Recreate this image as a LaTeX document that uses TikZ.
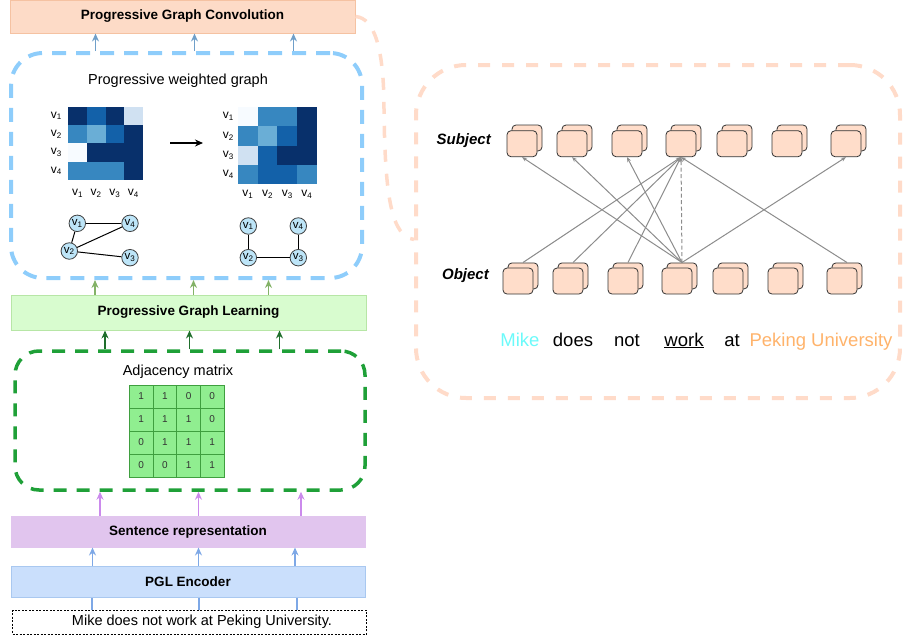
\documentclass[tikz,border=0pt]{standalone}
\usepackage{fontspec}
\setmainfont{Liberation Sans}
\usepackage{xcolor}
\usetikzlibrary{arrows.meta,positioning}

\definecolor{pgcfill}{HTML}{FDDBC7}
\definecolor{pgcline}{HTML}{F5C2A2}
\definecolor{pwgline}{HTML}{8ECDFB}
\definecolor{pglfill}{HTML}{D8FCCF}
\definecolor{pglline}{HTML}{B7E6A6}
\definecolor{adjdash}{HTML}{1FA038}
\definecolor{srfill}{HTML}{E1C5EE}
\definecolor{encfill}{HTML}{CADFFC}
\definecolor{encline}{HTML}{A9C8F0}
\definecolor{peachdash}{HTML}{FFDBC9}
\definecolor{stackfill}{HTML}{FFDDCA}
\definecolor{relgray}{HTML}{8C8C8C}
\definecolor{mike}{HTML}{6BFAFA}
\definecolor{peking}{HTML}{FFB36B}
\definecolor{arrblue}{HTML}{6F9FC9}
\definecolor{arrgreen}{HTML}{83B267}
\definecolor{arrdark}{HTML}{1F6E2C}
\definecolor{arrpurple}{HTML}{CB8AEC}
\definecolor{arrsky}{HTML}{7EA8E6}
\definecolor{vfill}{HTML}{BDE5F8}
\definecolor{adjfill}{HTML}{90EE90}
\definecolor{adjline}{HTML}{3F9F3F}
\definecolor{hm0}{HTML}{F7FBFF}
\definecolor{hm1}{HTML}{D0E1F2}
\definecolor{hm2}{HTML}{6AAED6}
\definecolor{hm3}{HTML}{3787C0}
\definecolor{hm4}{HTML}{1361A9}
\definecolor{hm5}{HTML}{08306B}

\begin{document}
\begin{tikzpicture}[x=1pt,y=-1pt]
		\tikzstyle{layer}=[line width=1pt, inner sep=0pt, font=\fontsize{13.5}{16}\selectfont\bfseries]
		\tikzstyle{groupbox}=[line width=4pt, dash pattern=on 14pt off 10pt, inner sep=0pt]
		\tikzstyle{caption}=[font=\fontsize{14.5}{17}\selectfont, inner sep=0pt]
		\tikzstyle{up}=[line width=1.8pt, -{Stealth[length=8pt,width=7pt]}]
		\tikzstyle{vlabel}=[font=\fontsize{12}{14}\selectfont, inner sep=0pt]
		\tikzstyle{vnode}=[circle, draw=black!75, fill=vfill, line width=0.8pt, minimum size=16.5pt, inner sep=0pt, font=\fontsize{11.5}{13}\selectfont]
		\tikzstyle{gedge}=[line width=1pt, draw=black]
		\tikzstyle{adjcell}=[draw=adjline, fill=adjfill, line width=0.8pt, minimum width=23.7pt, minimum height=23pt, inner sep=0pt, text=black!80, font=\fontsize{10}{12}\selectfont]
		\tikzstyle{stack}=[draw=black!80, fill=stackfill, line width=0.8pt, rounded corners=4pt, minimum width=30pt, minimum height=26pt, inner sep=0pt]
		\tikzstyle{rel}=[draw=relgray, line width=1pt, -{Stealth[length=5pt,width=4pt]}]
		\tikzstyle{word}=[font=\fontsize{18.5}{22}\selectfont, inner sep=0pt, anchor=base]
		\tikzstyle{rowname}=[font=\fontsize{15}{18}\selectfont\bfseries\itshape, inner sep=0pt, anchor=east]

		\useasboundingbox (0,0) rectangle (904,640);

		\node [layer, fill=pgcfill, draw=pgcline, minimum width=345pt, minimum height=33pt] (pgc) at (182.5,16.5) {Progressive Graph Convolution};
		\node [layer, fill=pglfill, draw=pglline, minimum width=355pt, minimum height=35pt] (pgl) at (188.5,312.5) {Progressive Graph Learning};
		\node [layer, fill=srfill, draw=srfill, minimum width=354pt, minimum height=31pt] (sr) at (188,531.5) {Sentence representation};
		\node [layer, fill=encfill, draw=encline, minimum width=354pt, minimum height=31pt] (enc) at (188,581.5) {PGL Encoder};
		\node [draw, dash pattern=on 2pt off 1.5pt, line width=0.7pt, minimum width=354pt, minimum height=24pt, inner sep=0pt] (sent) at (189.5,622) {};
		\node [caption] (senttext) at (202,622) {Mike does not work at Peking University.};

		\node [groupbox, draw=pwgline, rounded corners=32pt, minimum width=351pt, minimum height=225pt] (pwg) at (186.5,165.5) {};
		\node [groupbox, draw=adjdash, line width=3.5pt, dash pattern=on 13pt off 10pt, rounded corners=24pt, minimum width=350pt, minimum height=139pt] (adjbox) at (190,420.5) {};
		\node [groupbox, draw=peachdash, dash pattern=on 12pt off 12pt, rounded corners=50pt, minimum width=484pt, minimum height=333pt] (rbox) at (658,231.5) {};

		\node [caption] (pwgtitle) at (178,81) {Progressive weighted graph};
		\node [caption] (adjtitle) at (178,372) {Adjacency matrix};

		\foreach \x in {95.5,194.5,293.5}
			\draw [up, draw=arrblue] (\x,0 |- pwg.north) -- (\x,0 |- pgc.south);
		\foreach \x in {95,193.5,268.5}
			\draw [up, draw=arrgreen] (\x,0 |- pgl.north) -- (\x,0 |- pwg.south);
		\foreach \x in {105,189.5,279.5}
			\draw [up, draw=arrdark] (\x,0 |- adjbox.north) -- (\x,0 |- pgl.south);
		\foreach \x in {100,198.5,301}
			\draw [up, draw=arrpurple] (\x,0 |- sr.north) -- (\x,0 |- adjbox.south);
		\foreach \x in {92.5,198.5,295}
			\draw [up, draw=arrsky] (\x,0 |- enc.north) -- (\x,0 |- sr.south);
		\foreach \x in {92,199,297}
			\draw [line width=1.8pt, draw=arrsky] (\x,0 |- sent.north) -- (\x,0 |- enc.south);

		\foreach \row [count=\i] in {{5,4,5,1},{3,2,4,5},{0,5,5,5},{3,3,3,5}}
			\foreach \c [count=\j] in \row
				\fill [fill=hm\c] ({68.3+(\j-1)*18.6},{106.7+(\i-1)*18.3}) rectangle ++(18.6,18.3);
		\foreach \row [count=\i] in {{0,3,3,5},{3,2,4,5},{1,4,5,5},{3,4,4,3}}
			\foreach \c [count=\j] in \row
				\fill [fill=hm\c] ({238+(\j-1)*19.7},{107+(\i-1)*19.3}) rectangle ++(19.7,19.3);
		\foreach \i in {1,...,4} {
			\node [vlabel, anchor=east] (ra\i) at (62,{106.7+(\i-0.5)*18.3}) {v\textsubscript{\i}};
			\node [vlabel] (ca\i) at ({68.3+(\i-0.5)*18.6},193) {v\textsubscript{\i}};
			\node [vlabel, anchor=east] (rb\i) at (234,{107+(\i-0.5)*19.3}) {v\textsubscript{\i}};
			\node [vlabel] (cb\i) at ({238+(\i-0.5)*19.7},194) {v\textsubscript{\i}};
		}
		\coordinate (hmfrom) at (170,143);
		\coordinate (hmto) at (203,143);
		\draw [line width=2.2pt, -{Stealth[length=8pt,width=7pt]}] (hmfrom) -- (hmto);

		\node [vnode] (la1) at (77.3,223.3) {v\textsubscript{1}};
		\node [vnode] (la4) at (130,223.3) {v\textsubscript{4}};
		\node [vnode] (la2) at (69.3,251) {v\textsubscript{2}};
		\node [vnode] (la3) at (130,257.7) {v\textsubscript{3}};
		\draw [gedge] (la1) -- (la4);
		\draw [gedge] (la1) -- (la2);
		\draw [gedge] (la2) -- (la4);
		\draw [gedge] (la2) -- (la3);

		\node [vnode] (lb1) at (248.3,226) {v\textsubscript{1}};
		\node [vnode] (lb4) at (298.3,226) {v\textsubscript{4}};
		\node [vnode] (lb2) at (248.3,257.7) {v\textsubscript{2}};
		\node [vnode] (lb3) at (298.3,257.7) {v\textsubscript{3}};
		\draw [gedge, line width=1.6pt] (lb1) -- (lb2);
		\draw [gedge, line width=1.6pt] (lb4) -- (lb3);
		\draw [gedge] (lb2) -- (lb3);

		\foreach \row [count=\i] in {{1,1,0,0},{1,1,1,0},{0,1,1,1},{0,0,1,1}}
			\foreach \v [count=\j] in \row
				\node [adjcell] (m\i\j) at ({129.3+(\j-0.5)*23.7},{385+(\i-0.5)*23}) {\v};

		\foreach \x [count=\i] in {518,568,623,677,728,783,842} {
			\node [stack] (ob\i) at (\x+5,275.9) {};
			\node [stack] (o\i) at (\x,281) {};
			\node [stack] (sb\i) at (\x+9,138) {};
			\node [stack] (s\i) at (\x+4,143.7) {};
		}
		\node [rowname] (subj) at (491,141) {Subject};
		\node [rowname] (obj) at (489,276) {Object};

		\foreach \j in {1,2,3,7}
			\draw [rel] (ob4.north) -- (s\j.south);
		\foreach \i in {1,2,3,7}
			\draw [rel] (ob\i.north) -- (s4.south);
		\draw [rel, dash pattern=on 4pt off 2.5pt] (ob4.north) -- (s4.south);

		\node [word, text=mike] (w1) at (520,346) {Mike};
		\node [word] (w2) at (573,346) {does};
		\node [word] (w3) at (627,346) {not};
		\node [word] (w4) at (684,346) {\underline{work}};
		\node [word] (w5) at (732,346) {at};
		\node [word, text=peking] (w6) at (821,346) {Peking University};

		\coordinate (bend) at (384,110);
		\draw [groupbox, draw=peachdash, line width=3.5pt, dash pattern=on 12pt off 12pt] (pgc.east) .. controls (375,18) and (384,50) .. (bend) .. controls (385,200) and (392,236) .. ([yshift=-8pt]rbox.west);

	\end{tikzpicture}
\end{document}
